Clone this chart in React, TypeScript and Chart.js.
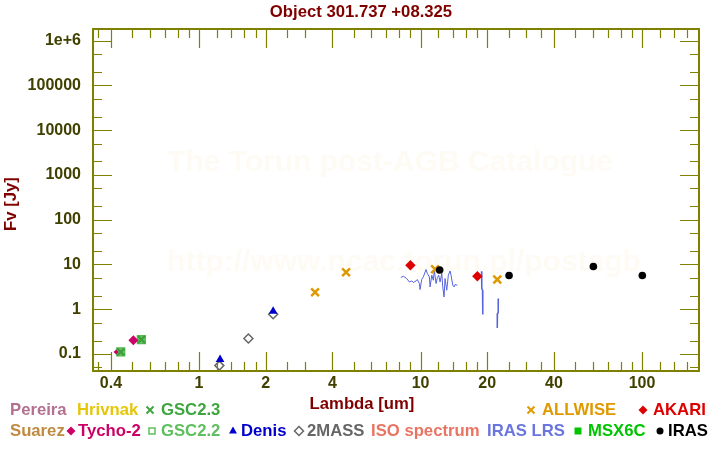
import React, { useEffect, useRef } from 'react';
import { Chart, registerables } from 'chart.js';

Chart.register(...registerables);

// ---------- text ----------
const TITLE = 'Object 301.737 +08.325';
const X_TITLE = 'Lambda [um]';
const Y_TITLE = 'Fv [Jy]';
const WATERMARK_1 = 'The Torun post-AGB Catalogue';
const WATERMARK_2 = 'http://www.ncac.torun.pl/postagb';

// ---------- axes ----------
const X_MIN = 0.332;
const X_MAX = 180.8;
const Y_MIN = 0.0417;
const Y_MAX = 1.82e6;
const X_MAJOR = [0.4, 1, 2, 4, 10, 20, 40, 100];
const X_MAJOR_LABELS = ['0.4', '1', '2', '4', '10', '20', '40', '100'];
const X_MINOR = [0.35, 0.5, 0.6, 0.7, 0.8, 0.9, 1.2, 1.4, 1.6, 1.8, 2.5, 3, 5, 6, 7, 8, 9, 12, 14, 16, 18, 25, 30, 35, 50, 60, 70, 80, 90, 120, 140, 160];
const Y_MAJOR = [0.1, 1, 10, 100, 1000, 10000, 100000, 1000000];
const Y_MAJOR_LABELS = ['0.1', '1', '10', '100', '1000', '10000', '100000', '1e+6'];
const Y_MINOR = [0.05, 0.2, 0.5, 2, 5, 20, 50, 200, 500, 2000, 5000, 20000, 50000, 200000, 500000];

// ---------- data (wavelength um, flux Jy) ----------
const GSC23_X = [0.443, 0.549];
const GSC23_Y = [0.111, 0.21];
const GSC22_X = [0.443, 0.549];
const GSC22_Y = [0.111, 0.21];
const TYCHO_X = [0.422, 0.505];
const TYCHO_Y = [0.111, 0.203];
const DENIS_X = [1.244, 2.16];
const DENIS_Y = [0.075, 0.9];
const TWOMASS_X = [1.235, 1.67, 2.16];
const TWOMASS_Y = [0.055, 0.222, 0.77];
const ALLWISE_X = [3.34, 4.61, 11.63, 22.2];
const ALLWISE_Y = [2.4, 6.71, 7.83, 4.61];
const AKARI_X = [9.0, 18.05];
const AKARI_Y = [9.62, 5.46];
const IRAS_X = [12.2, 25.1, 60.3, 100.3];
const IRAS_Y = [7.55, 5.66, 9.0, 5.66];
const LRS_A_X = [8.14, 8.36, 8.66, 8.9, 9.13, 9.28, 9.54, 9.67, 9.88, 9.95, 10.12, 10.29, 10.59, 10.73, 10.96, 11.04, 11.24, 11.42, 11.54, 11.75, 11.91, 12.08, 12.25, 12.47, 12.6, 12.77, 12.9, 13.13, 13.35, 13.59, 13.73, 13.98, 14.17, 14.32, 14.66];
const LRS_A_Y = [5.11, 5.46, 4.85, 4.07, 4.29, 3.95, 4.29, 4.61, 3.75, 2.75, 4.61, 5.27, 7.71, 6.28, 5.27, 3.15, 5.75, 4.44, 7.43, 3.75, 5.11, 5.75, 4.07, 6.28, 3.15, 1.88, 4.85, 2.66, 5.75, 7.17, 5.75, 3.44, 3.15, 3.56, 3.44];
const LRS_B_X = [18.85, 18.9, 19.05, 19.1];
const LRS_B_Y = [7.06, 2.9, 2.66, 0.76];
const LRS_C_X = [22.45, 22.42, 22.25, 22.2];
const LRS_C_Y = [1.73, 0.84, 0.8, 0.38];

// ---------- legend ----------
const LEGEND_LABELS = ['Pereira', 'Hrivnak', 'GSC2.3', 'ALLWISE', 'AKARI', 'Suarez', 'Tycho-2', 'GSC2.2', 'Denis', '2MASS', 'ISO spectrum', 'IRAS LRS', 'MSX6C', 'IRAS'];
const LEGEND_COLORS = ['#b3708f', '#e6c60a', '#3fa63f', '#df9a00', '#dd0000', '#c08a40', '#cc0066', '#5fbf5f', '#0000cc', '#666666', '#e87462', '#6a76de', '#00c400', '#000000'];
const LEGEND_MARKERS = ['', '', 'cross', 'cross', 'diamond', '', 'diamond', 'openSquare', 'triangle', 'openDiamond', '', '', 'square', 'circle'];
const LEGEND_TEXT_X = [10, 77, 161, 542, 653, 10, 78, 161, 241, 307, 371, 487, 588, 668];
const LEGEND_MARK_X = [0, 0, 150, 531, 643, 0, 71, 152, 233, 299, 0, 0, 578, 660];
const LEGEND_ROW = [0, 0, 0, 0, 0, 1, 1, 1, 1, 1, 1, 1, 1, 1];

const FONT_FAMILY = '"Liberation Sans", Arial, Helvetica, sans-serif';
const MAROON = '#800000';
const TICK_COLOR = '#404000';
const FRAME_COLOR = '#808000';

const pts = (xs: number[], ys: number[]) => xs.map((x, i) => ({ x, y: ys[i] }));

function drawMarker(ctx: CanvasRenderingContext2D, kind: string, x: number, y: number, color: string) {
  ctx.save();
  ctx.strokeStyle = color;
  ctx.fillStyle = color;
  ctx.lineWidth = 1.5;
  ctx.beginPath();
  if (kind === 'cross') {
    const s = 3.5;
    ctx.lineWidth = 2;
    ctx.moveTo(x - s, y - s); ctx.lineTo(x + s, y + s);
    ctx.moveTo(x + s, y - s); ctx.lineTo(x - s, y + s);
    ctx.stroke();
  } else if (kind === 'diamond' || kind === 'openDiamond') {
    const r = 4.5;
    ctx.moveTo(x, y - r); ctx.lineTo(x + r, y); ctx.lineTo(x, y + r); ctx.lineTo(x - r, y); ctx.closePath();
    if (kind === 'diamond') ctx.fill(); else ctx.stroke();
  } else if (kind === 'openSquare') {
    ctx.rect(x - 3, y - 3, 6, 6);
    ctx.stroke();
  } else if (kind === 'square') {
    ctx.rect(x - 3.5, y - 3.5, 7, 7);
    ctx.fill();
  } else if (kind === 'triangle') {
    ctx.moveTo(x, y - 4.5); ctx.lineTo(x + 4, y + 2.5); ctx.lineTo(x - 4, y + 2.5); ctx.closePath();
    ctx.fill();
  } else if (kind === 'circle') {
    ctx.arc(x, y, 3.5, 0, Math.PI * 2);
    ctx.fill();
  }
  ctx.restore();
}

const decorPlugin = {
  id: 'decor',
  beforeDatasetsDraw(chart: any) {
    const { ctx, chartArea } = chart;
    const cx = (chartArea.left + chartArea.right) / 2;
    ctx.save();
    ctx.fillStyle = '#fefbf4';
    ctx.font = `bold 30px ${FONT_FAMILY}`;
    ctx.textAlign = 'center';
    ctx.textBaseline = 'middle';
    ctx.fillText(WATERMARK_1, cx - 6, 163);
    ctx.fillText(WATERMARK_2, cx + 8, 263);
    ctx.restore();
  },
  afterDatasetsDraw(chart: any) {
    const { ctx, chartArea } = chart;
    const xs = chart.scales.x;
    const ys = chart.scales.y;
    const { left, right, top, bottom } = chartArea;
    ctx.save();
    ctx.strokeStyle = FRAME_COLOR;
    ctx.lineWidth = 1.2;
    const major = 19;
    const minor = 9;
    const vTick = (v: number, len: number) => {
      const p = Math.round(xs.getPixelForValue(v)) + 0.5;
      ctx.beginPath();
      ctx.moveTo(p, bottom); ctx.lineTo(p, bottom - len);
      ctx.moveTo(p, top); ctx.lineTo(p, top + len);
      ctx.stroke();
    };
    const hTick = (v: number, len: number) => {
      const p = Math.round(ys.getPixelForValue(v)) + 0.5;
      ctx.beginPath();
      ctx.moveTo(left, p); ctx.lineTo(left + len, p);
      ctx.moveTo(right, p); ctx.lineTo(right - len, p);
      ctx.stroke();
    };
    X_MAJOR.forEach((v) => vTick(v, major));
    X_MINOR.forEach((v) => vTick(v, minor));
    Y_MAJOR.forEach((v) => hTick(v, major));
    Y_MINOR.forEach((v) => hTick(v, minor));
    ctx.lineWidth = 2;
    ctx.strokeRect(left, top, right - left, bottom - top);
    ctx.restore();
  },
  afterDraw(chart: any) {
    const { ctx } = chart;
    ctx.save();
    ctx.fillStyle = MAROON;
    ctx.font = `bold 16.7px ${FONT_FAMILY}`;
    ctx.textAlign = 'center';
    ctx.textBaseline = 'middle';
    ctx.fillText(TITLE, 361, 12);
    ctx.fillText(X_TITLE, 362, 404);
    ctx.save();
    ctx.translate(11, 204);
    ctx.rotate(-Math.PI / 2);
    ctx.fillText(Y_TITLE, 0, 0);
    ctx.restore();
    ctx.textAlign = 'left';
    LEGEND_LABELS.forEach((label, i) => {
      const y = LEGEND_ROW[i] === 0 ? 410 : 431;
      if (LEGEND_MARKERS[i]) drawMarker(ctx, LEGEND_MARKERS[i], LEGEND_MARK_X[i], y, LEGEND_COLORS[i]);
      ctx.fillStyle = LEGEND_COLORS[i];
      ctx.fillText(label, LEGEND_TEXT_X[i], y);
    });
    ctx.restore();
  },
};

export default function App() {
  const ref = useRef<HTMLCanvasElement | null>(null);
  useEffect(() => {
    document.body.style.margin = '0';
    const canvas = ref.current;
    if (!canvas) return;
    const tickFont = { family: FONT_FAMILY, size: 16, weight: 'bold' as const };
    const chart = new Chart(canvas, {
      type: 'scatter',
      data: {
        datasets: [
          { label: 'IRAS', data: pts(IRAS_X, IRAS_Y), pointStyle: 'circle', pointRadius: 3.8, backgroundColor: '#000000', borderColor: '#000000', borderWidth: 0 },
          { label: 'AKARI', data: pts(AKARI_X, AKARI_Y), pointStyle: 'rectRot', pointRadius: 5.2, backgroundColor: '#dd0000', borderColor: '#dd0000', borderWidth: 0 },
          { label: 'ALLWISE', data: pts(ALLWISE_X, ALLWISE_Y), pointStyle: 'crossRot', pointRadius: 5.5, borderColor: '#dd9900', backgroundColor: '#dd9900', borderWidth: 2.5 },
          { label: 'Denis', data: pts(DENIS_X, DENIS_Y), pointStyle: 'triangle', pointRadius: 5, backgroundColor: '#0000cc', borderColor: '#0000cc', borderWidth: 0 },
          { label: '2MASS', data: pts(TWOMASS_X, TWOMASS_Y), pointStyle: 'rectRot', pointRadius: 4.5, backgroundColor: 'rgba(255,255,255,0)', borderColor: '#666666', borderWidth: 1.5 },
          { label: 'Tycho-2', data: pts(TYCHO_X, TYCHO_Y), pointStyle: 'rectRot', pointRadius: [2.5, 5], backgroundColor: '#cc0066', borderColor: '#cc0066', borderWidth: 0 },
          { label: 'GSC2.3', data: pts(GSC23_X, GSC23_Y), pointStyle: 'crossRot', pointRadius: 5, borderColor: '#3a9e3a', backgroundColor: '#3a9e3a', borderWidth: 2 },
          { label: 'GSC2.2', data: pts(GSC22_X, GSC22_Y), pointStyle: 'rect', pointRadius: 5.5, backgroundColor: '#66c266', borderColor: '#55bb55', borderWidth: 1.5 },
          { label: 'IRAS LRS a', data: pts(LRS_A_X, LRS_A_Y), showLine: true, pointRadius: 0, borderColor: '#5563dc', borderWidth: 1, tension: 0 },
          { label: 'IRAS LRS b', data: pts(LRS_B_X, LRS_B_Y), showLine: true, pointRadius: 0, borderColor: '#5563dc', borderWidth: 1.5, tension: 0 },
          { label: 'IRAS LRS c', data: pts(LRS_C_X, LRS_C_Y), showLine: true, pointRadius: 0, borderColor: '#5563dc', borderWidth: 1.5, tension: 0 },
        ],
      },
      options: {
        responsive: false,
        animation: false,
        events: [],
        layout: { padding: { left: 0, right: 21, top: 29, bottom: 49 } },
        plugins: {
          legend: { display: false },
          tooltip: { enabled: false },
          title: { display: false },
        },
        scales: {
          x: {
            type: 'logarithmic',
            min: X_MIN,
            max: X_MAX,
            bounds: 'data',
            grid: { display: false },
            border: { display: false },
            afterBuildTicks: (s: any) => {
              s.ticks = [...X_MAJOR, ...X_MINOR].sort((a, b) => a - b).map((v) => ({ value: v }));
            },
            afterFit: (s: any) => { s.height = 30; },
            ticks: {
              autoSkip: false,
              maxRotation: 0,
              minRotation: 0,
              padding: -5,
              color: TICK_COLOR,
              font: tickFont,
              callback: (v: any) => {
                const i = X_MAJOR.indexOf(Number(v));
                return i >= 0 ? X_MAJOR_LABELS[i] : '';
              },
            },
          },
          y: {
            type: 'logarithmic',
            min: Y_MIN,
            max: Y_MAX,
            bounds: 'data',
            grid: { display: false },
            border: { display: false },
            afterBuildTicks: (s: any) => {
              s.ticks = [...Y_MAJOR, ...Y_MINOR].sort((a, b) => a - b).map((v) => ({ value: v }));
            },
            afterFit: (s: any) => { s.width = 93; },
            ticks: {
              autoSkip: false,
              padding: 4,
              color: TICK_COLOR,
              font: tickFont,
              callback: (v: any) => {
                const i = Y_MAJOR.indexOf(Number(v));
                return i >= 0 ? Y_MAJOR_LABELS[i] : '';
              },
            },
          },
        },
      },
      plugins: [decorPlugin],
    } as any);
    return () => chart.destroy();
  }, []);
  return (
    <div style={{ width: 720, height: 450, background: '#ffffff' }}>
      <canvas ref={ref} width={720} height={450} style={{ display: 'block', width: 720, height: 450 }} />
    </div>
  );
}
